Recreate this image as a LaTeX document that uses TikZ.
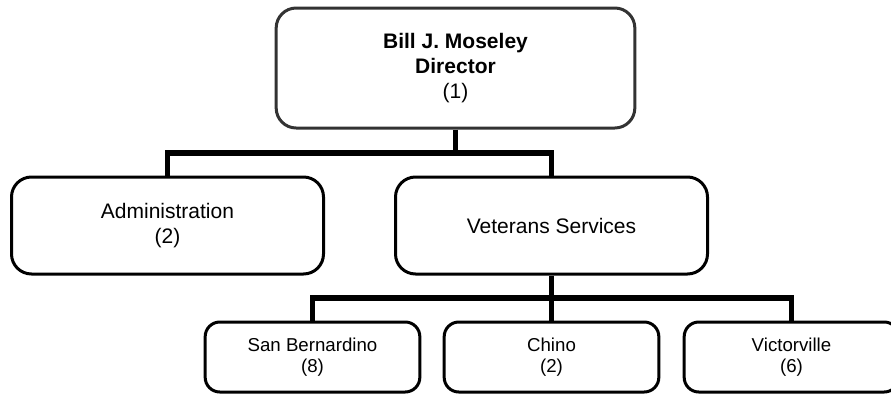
\documentclass[tikz,border=0pt]{standalone}
\usepackage{fontspec}
\setmainfont{Liberation Sans}
\usetikzlibrary{positioning}
\newcommand{\unitTop}[0]{\fontsize{15.75}{18.75}\selectfont}
\newcommand{\unitLow}[0]{\fontsize{14}{15.5}\selectfont}

\begin{document}
\begin{tikzpicture}[x=0.75pt, y=-0.75pt]
  \tikzset{every node/.style={align=center, rounded corners=15pt, line width=2.25pt},
           topbox/.style={draw=black!80, minimum width=269pt, minimum height=90pt, font=\unitTop},
           midbox/.style={draw=black, minimum width=234pt, minimum height=72.75pt, font=\unitTop},
           lowbox/.style={draw=black, rounded corners=11pt, minimum width=161pt, minimum height=52.5pt, font=\unitLow},
           link/.style={line width=4pt, black}}
  \useasboundingbox (0,0) rectangle (891,393);
  \clip (0,0) rectangle (891,393);
  \node[topbox] (dir) at (455.5,68) {\textbf{Bill J. Moseley}\\\textbf{Director}\\(1)};
  \node[midbox] (admin) at (167.5,225.5) {Administration\\(2)};
  \node[midbox] (vet) at (551.5,225.5) {Veterans Services};
  \node[lowbox] (sb) at (312.5,357) {San Bernardino\\(8)};
  \node[lowbox] (chino) at (551.5,357) {Chino\\(2)};
  \node[lowbox] (vic) at (791.5,357) {Victorville\\(6)};
  \coordinate (bar1) at (455.5,153);
  \coordinate (bar2) at (551.5,298);
  \draw[link] (dir.south) -- (bar1) -| (admin.north);
  \draw[link] (bar1) -| (vet.north);
  \draw[link] (vet.south) -- (chino.north);
  \draw[link] (sb.north) |- (bar2) -| (vic.north);
\end{tikzpicture}
\end{document}
